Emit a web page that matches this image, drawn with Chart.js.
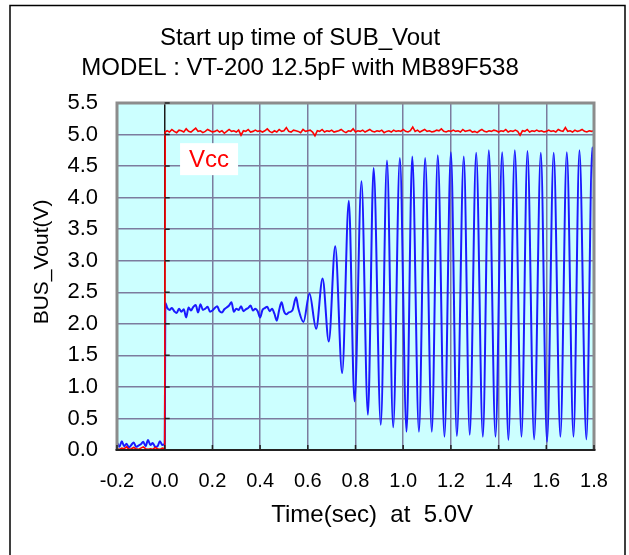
<!DOCTYPE html>
<html>
<head>
<meta charset="utf-8">
<script src="https://cdn.jsdelivr.net/npm/chart.js@4.4.1/dist/chart.umd.min.js"></script>
<style>
  html, body { margin: 0; padding: 0; background: #fff; }
</style>
</head>
<body>
<canvas id="startupChart" width="629" height="555"></canvas>
<script>
const FONT = '"Liberation Sans", Arial, sans-serif';

const titleLines = ["Start up time of SUB_Vout", "MODEL : VT-200 12.5pF with MB89F538"];
const xTickValues = [-0.2, 0.0, 0.2, 0.4, 0.6, 0.8, 1.0, 1.2, 1.4, 1.6, 1.8];
const yTickValues = [0.0, 0.5, 1.0, 1.5, 2.0, 2.5, 3.0, 3.5, 4.0, 4.5, 5.0, 5.5];

// Vcc (red)
const vccTime = [
  -0.20, -0.19, -0.18, -0.17, -0.16, -0.15, -0.14, -0.13, -0.12, -0.11,
  -0.10, -0.09, -0.08, -0.07, -0.06, -0.05, -0.04, -0.03, -0.02, -0.01, 0.00, 0.002,
  0.01, 0.02, 0.03, 0.04, 0.05, 0.06, 0.07, 0.08, 0.09, 0.10, 0.11, 0.12, 0.13, 0.14, 0.15, 0.16, 0.17, 0.18, 0.19, 0.20,
  0.21, 0.22, 0.23, 0.24, 0.25, 0.26, 0.27, 0.28, 0.29, 0.30, 0.31, 0.32, 0.33, 0.34, 0.35, 0.36, 0.37, 0.38, 0.39, 0.40,
  0.41, 0.42, 0.43, 0.44, 0.45, 0.46, 0.47, 0.48, 0.49, 0.50, 0.51, 0.52, 0.53, 0.54, 0.55, 0.56, 0.57, 0.58, 0.59, 0.60,
  0.61, 0.62, 0.63, 0.64, 0.65, 0.66, 0.67, 0.68, 0.69, 0.70, 0.71, 0.72, 0.73, 0.74, 0.75, 0.76, 0.77, 0.78, 0.79, 0.80,
  0.81, 0.82, 0.83, 0.84, 0.85, 0.86, 0.87, 0.88, 0.89, 0.90, 0.91, 0.92, 0.93, 0.94, 0.95, 0.96, 0.97, 0.98, 0.99, 1.00,
  1.01, 1.02, 1.03, 1.04, 1.05, 1.06, 1.07, 1.08, 1.09, 1.10, 1.11, 1.12, 1.13, 1.14, 1.15, 1.16, 1.17, 1.18, 1.19, 1.20,
  1.21, 1.22, 1.23, 1.24, 1.25, 1.26, 1.27, 1.28, 1.29, 1.30, 1.31, 1.32, 1.33, 1.34, 1.35, 1.36, 1.37, 1.38, 1.39, 1.40,
  1.41, 1.42, 1.43, 1.44, 1.45, 1.46, 1.47, 1.48, 1.49, 1.50, 1.51, 1.52, 1.53, 1.54, 1.55, 1.56, 1.57, 1.58, 1.59, 1.60,
  1.61, 1.62, 1.63, 1.64, 1.65, 1.66, 1.67, 1.68, 1.69, 1.70, 1.71, 1.72, 1.73, 1.74, 1.75, 1.76, 1.77, 1.78, 1.79, 1.80
];
const vccVolt = [
  0.02, 0.01, 0.03, 0.02, 0.05, 0.01, 0.02, 0.04, 0.02, 0.01,
  0.03, 0.05, 0.02, 0.01, 0.02, 0.01, 0.04, 0.02, 0.01, 0.03, 0.02, 5.04,
  5.06, 5.04, 5.08, 5.05, 5.03, 5.07, 5.06, 5.04, 5.09, 5.05, 5.04, 5.07, 5.10, 5.05, 5.06, 5.03, 5.05, 5.08, 5.06, 5.04,
  5.05, 5.07, 5.04, 5.06, 5.02, 5.05, 5.08, 5.05, 5.06, 5.04, 5.07, 4.99, 5.06, 5.05, 5.08, 5.04, 5.05, 5.07, 5.05, 5.06,
  5.04, 5.06, 5.09, 5.05, 5.03, 5.06, 5.04, 5.08, 5.05, 5.06, 5.11, 5.05, 5.04, 5.07, 5.06, 5.05, 5.03, 5.08, 5.05, 5.06,
  5.07, 5.04, 4.98, 5.06, 5.05, 5.08, 5.04, 5.06, 5.05, 5.07, 5.04, 5.05, 5.06, 5.08, 5.05, 5.03, 5.06, 5.05, 5.09, 5.04,
  5.06, 5.05, 5.07, 5.04, 5.06, 5.08, 5.05, 5.04, 5.06, 5.05, 5.07, 5.03, 5.05, 5.06, 5.04, 5.07, 5.05, 5.06, 5.05, 5.08,
  5.05, 5.04, 5.06, 5.12, 5.05, 5.07, 5.04, 5.06, 5.08, 5.05, 5.06, 5.04, 5.05, 5.07, 5.06, 5.09, 5.05, 5.04, 5.06, 5.05,
  5.07, 5.05, 5.06, 5.04, 5.08, 5.05, 5.06, 5.07, 5.04, 5.05, 5.03, 5.06, 5.08, 5.05, 5.04, 5.06, 5.05, 5.07, 5.06, 5.04,
  5.06, 5.05, 5.08, 5.04, 5.06, 5.05, 5.07, 5.05, 4.99, 5.06, 5.05, 5.08, 5.04, 5.06, 5.05, 5.07, 5.05, 5.06, 5.04, 5.05,
  5.07, 5.05, 5.06, 5.04, 5.08, 5.06, 5.05, 5.11, 5.05, 5.06, 5.04, 5.07, 5.05, 5.06, 5.08, 5.05, 5.04, 5.06, 5.05, 5.06
];

// BUS_Vout (blue)
const busTime = [
  -0.20, -0.19, -0.18, -0.17, -0.16, -0.15, -0.14, -0.13, -0.12, -0.11,
  -0.10, -0.09, -0.08, -0.07, -0.06, -0.05, -0.04, -0.03, -0.02, -0.01, 0.00, 0.003,
  0.01, 0.02, 0.03, 0.04, 0.05, 0.06, 0.07, 0.08, 0.09, 0.10, 0.11, 0.12, 0.13, 0.14, 0.15, 0.16, 0.17, 0.18, 0.19, 0.20,
  0.21, 0.22, 0.23, 0.24, 0.25, 0.26, 0.27, 0.28, 0.29, 0.30, 0.31, 0.32, 0.33, 0.34, 0.35, 0.36, 0.37, 0.38, 0.39, 0.40,
  0.41, 0.42, 0.43, 0.44, 0.45, 0.46, 0.47, 0.48, 0.49, 0.50, 0.51, 0.52, 0.535,
  0.551, 0.560, 0.582, 0.607, 0.635, 0.662, 0.688, 0.715, 0.744, 0.772, 0.796, 0.825, 0.852, 0.876, 0.906, 0.932,
  0.958, 0.986, 1.014, 1.038, 1.066, 1.092, 1.120, 1.145, 1.173, 1.200, 1.225, 1.254, 1.279, 1.306, 1.334, 1.359,
  1.387, 1.415, 1.441, 1.468, 1.496, 1.521, 1.549, 1.577, 1.603, 1.631, 1.659, 1.686, 1.714, 1.739, 1.768, 1.793, 1.800
];
const busVolt = [
  0.12, 0.05, 0.14, 0.06, 0.10, 0.04, 0.08, 0.12, 0.05, 0.07,
  0.09, 0.13, 0.06, 0.16, 0.08, 0.11, 0.05, 0.06, 0.14, 0.08, 0.10, 2.33,
  2.26, 2.22, 2.25, 2.20, 2.17, 2.24, 2.19, 2.23, 2.10, 2.26, 2.21, 2.27, 2.30, 2.18, 2.31, 2.22, 2.24, 2.27, 2.19, 2.21,
  2.25, 2.28, 2.20, 2.18, 2.23, 2.26, 2.29, 2.34, 2.19, 2.24, 2.22, 2.28, 2.20, 2.23, 2.25, 2.29, 2.21, 2.24, 2.20, 2.10,
  2.22, 2.25, 2.27, 2.20, 2.24, 2.16, 2.05, 2.22, 2.34, 2.20, 2.15, 2.18, 2.21,
  2.42, 2.25, 2.03, 2.48, 1.92, 2.72, 1.72, 3.23, 1.22, 3.95, 0.77, 4.26, 0.56, 4.47, 0.40, 4.59,
  0.36, 4.63, 0.29, 4.65, 0.29, 4.63, 0.29, 4.67, 0.21, 4.72, 0.22, 4.65, 0.24, 4.71, 0.21, 4.75,
  0.21, 4.72, 0.16, 4.75, 0.21, 4.74, 0.17, 4.71, 0.13, 4.71, 0.21, 4.72, 0.21, 4.75, 0.17, 4.80, 4.29
];

// background, frames, inner tick marks and the "Vcc" tag
const plotDecor = {
  id: "plotDecor",
  beforeDraw(chart) {
    const { ctx, chartArea: a } = chart;
    ctx.save();
    ctx.fillStyle = "#ccffff";
    ctx.fillRect(a.left, a.top, a.right - a.left, a.bottom - a.top);
    ctx.restore();
  },
  afterDraw(chart) {
    const { ctx, chartArea: a, scales } = chart;
    const x = scales.x, y = scales.y;
    ctx.save();

    // outer frame
    ctx.strokeStyle = "#000";
    ctx.lineWidth = 1.5;
    ctx.beginPath();
    ctx.moveTo(10, 560);
    ctx.lineTo(10, 5.5);
    ctx.lineTo(625, 5.5);
    ctx.lineTo(625, 560);
    ctx.stroke();

    // plot area border
    ctx.strokeStyle = "#8c8c8c";
    ctx.lineWidth = 3;
    ctx.beginPath();
    ctx.moveTo(a.left, a.bottom);
    ctx.lineTo(a.left, a.top);
    ctx.lineTo(a.right, a.top);
    ctx.lineTo(a.right, a.bottom);
    ctx.stroke();

    // x axis line
    ctx.strokeStyle = "#222";
    ctx.lineWidth = 2;
    ctx.beginPath();
    ctx.moveTo(a.left - 1.5, a.bottom);
    ctx.lineTo(a.right + 1.5, a.bottom);
    ctx.stroke();

    // tick marks on the x=0 line and the bottom axis
    const x0 = x.getPixelForValue(0);
    ctx.lineWidth = 1.5;
    ctx.beginPath();
    yTickValues.forEach(v => {
      const py = y.getPixelForValue(v);
      ctx.moveTo(x0, py);
      ctx.lineTo(x0 + 5, py);
    });
    xTickValues.forEach(v => {
      const px = x.getPixelForValue(v);
      ctx.moveTo(px, a.bottom);
      ctx.lineTo(px, a.bottom - 5);
    });
    ctx.stroke();

    // Vcc tag
    const cx = x.getPixelForValue(0.186);
    const cy = y.getPixelForValue(4.61);
    ctx.fillStyle = "#fff";
    ctx.fillRect(cx - 29, cy - 16, 58, 32);
    ctx.fillStyle = "#ff0000";
    ctx.font = "24px " + FONT;
    ctx.textAlign = "center";
    ctx.textBaseline = "middle";
    ctx.fillText("Vcc", cx, cy + 1);

    ctx.restore();
  }
};

new Chart(document.getElementById("startupChart"), {
  type: "line",
  data: {
    datasets: [
      {
        label: "Vcc",
        data: vccTime.map((t, i) => ({ x: t, y: vccVolt[i] })),
        borderColor: "#ff0000",
        borderWidth: 1.6,
        pointRadius: 0,
        tension: 0
      },
      {
        label: "BUS_Vout",
        data: busTime.map((t, i) => ({ x: t, y: busVolt[i] })),
        borderColor: "#1a1aff",
        borderWidth: 2,
        pointRadius: 0,
        cubicInterpolationMode: "monotone"
      }
    ]
  },
  options: {
    responsive: false,
    animation: false,
    events: [],
    layout: {
      autoPadding: false,
      padding: { left: 6, right: 35, top: 0, bottom: 0 }
    },
    plugins: {
      legend: { display: false },
      tooltip: { enabled: false },
      title: {
        display: true,
        text: titleLines,
        color: "#000",
        font: { family: FONT, size: 24, weight: "normal", lineHeight: 1.229 },
        padding: { top: 23.75, bottom: 20.25 }
      }
    },
    scales: {
      x: {
        type: "linear",
        min: -0.2,
        max: 1.8,
        afterBuildTicks: s => { s.ticks = xTickValues.map(v => ({ value: v })); },
        afterFit: s => { s.height = 105; },
        grid: {
          color: c => (c.tick && c.tick.value === 0 ? "#1a1a1a" : "#7c7c9e"),
          lineWidth: 1.5,
          drawTicks: false
        },
        border: { display: false },
        ticks: {
          color: "#000",
          font: { family: FONT, size: 20 },
          padding: 19,
          maxRotation: 0,
          autoSkip: false,
          callback: v => Number(v).toFixed(1)
        },
        title: {
          display: true,
          text: "     Time(sec)  at  5.0V",
          color: "#000",
          font: { family: FONT, size: 24 },
          padding: { top: 0, bottom: 25 }
        }
      },
      y: {
        min: 0,
        max: 5.5,
        afterBuildTicks: s => { s.ticks = yTickValues.map(v => ({ value: v })); },
        afterFit: s => { s.width = 111; },
        grid: { color: "#7c7c9e", lineWidth: 1.5, drawTicks: false },
        border: { display: false },
        ticks: {
          color: "#000",
          font: { family: FONT, size: 22 },
          padding: 19,
          autoSkip: false,
          callback: v => Number(v).toFixed(1)
        },
        title: {
          display: true,
          text: "     BUS_Vout(V)",
          color: "#000",
          font: { family: FONT, size: 21 },
          padding: { top: 23.4, bottom: 0 }
        }
      }
    }
  },
  plugins: [plotDecor]
});
</script>
</body>
</html>
